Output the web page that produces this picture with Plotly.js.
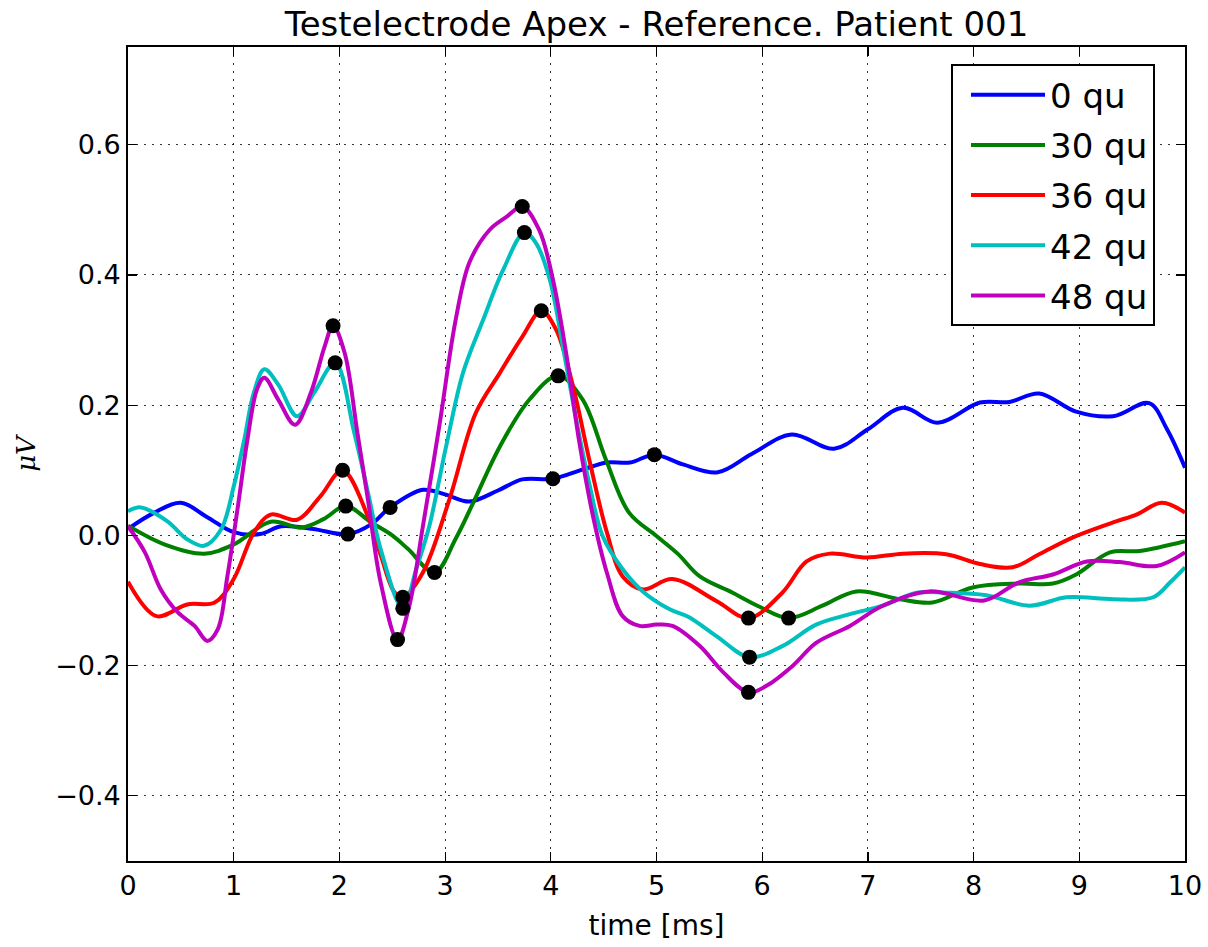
<!DOCTYPE html>
<html><head><meta charset="utf-8">
<script src="https://cdn.plot.ly/plotly-3.0.1.min.js"></script>
<style>html,body{margin:0;padding:0;background:#fff}#chart{width:1208px;height:947px}</style>
</head><body><div id="chart"></div>
<script>
const seriesNames = ['0 qu', '30 qu', '36 qu', '42 qu', '48 qu'];
const seriesColors = ['#0000ff', '#008000', '#ff0000', '#00bfbf', '#bf00bf'];

// 0 qu
const time0 = [0, 0.25, 0.5, 0.75, 1.0, 1.25, 1.45, 1.75, 2.08, 2.3, 2.48, 2.79, 3.0, 3.23, 3.5, 3.73, 4.02, 4.3, 4.53, 4.75, 4.98, 5.25, 5.58, 5.9, 6.28, 6.68, 7.0, 7.33, 7.66, 8.06, 8.34, 8.62, 8.97, 9.32, 9.66, 9.83, 10];
const volt0 = [0.01, 0.035, 0.05, 0.028, 0.005, 0.002, 0.014, 0.01, 0.002, 0.017, 0.043, 0.07, 0.063, 0.052, 0.069, 0.086, 0.087, 0.101, 0.112, 0.112, 0.124, 0.109, 0.097, 0.125, 0.155, 0.133, 0.163, 0.196, 0.173, 0.204, 0.205, 0.218, 0.19, 0.183, 0.203, 0.163, 0.104];
// 30 qu
const time30 = [0, 0.35, 0.72, 1.0, 1.35, 1.64, 1.85, 2.06, 2.3, 2.5, 2.65, 2.9, 3.1, 3.26, 3.52, 3.8, 4.07, 4.3, 4.52, 4.74, 5.0, 5.2, 5.41, 5.72, 5.98, 6.25, 6.57, 6.89, 7.3, 7.61, 7.99, 8.43, 8.75, 8.97, 9.29, 9.57, 10];
const volt30 = [0.015, -0.014, -0.028, -0.014, 0.021, 0.012, 0.025, 0.045, 0.02, 0.0, -0.021, -0.057, -0.005, 0.048, 0.137, 0.209, 0.245, 0.209, 0.117, 0.035, -0.001, -0.028, -0.063, -0.088, -0.11, -0.127, -0.108, -0.086, -0.098, -0.103, -0.08, -0.074, -0.074, -0.06, -0.026, -0.024, -0.009];
// 36 qu
const time36 = [0, 0.27, 0.56, 0.82, 1.0, 1.19, 1.35, 1.6, 1.82, 2.03, 2.27, 2.39, 2.52, 2.6, 2.79, 3.04, 3.29, 3.52, 3.73, 3.91, 4.05, 4.21, 4.37, 4.53, 4.68, 4.87, 5.15, 5.57, 5.87, 6.19, 6.42, 6.64, 6.99, 7.33, 7.74, 8.06, 8.37, 8.62, 8.94, 9.32, 9.54, 9.78, 10];
const volt36 = [-0.071, -0.124, -0.106, -0.103, -0.067, 0.004, 0.032, 0.024, 0.06, 0.1, 0.029, -0.03, -0.087, -0.095, -0.057, 0.055, 0.188, 0.25, 0.305, 0.345, 0.316, 0.229, 0.112, 0.005, -0.063, -0.083, -0.067, -0.101, -0.127, -0.088, -0.04, -0.028, -0.034, -0.028, -0.029, -0.044, -0.049, -0.029, -0.003, 0.02, 0.032, 0.05, 0.035];
// 42 qu
const time42 = [0, 0.12, 0.37, 0.56, 0.72, 0.88, 1.0, 1.1, 1.19, 1.29, 1.42, 1.6, 1.76, 1.96, 2.14, 2.27, 2.39, 2.6, 2.73, 2.85, 3.01, 3.17, 3.36, 3.55, 3.75, 3.86, 3.99, 4.12, 4.24, 4.37, 4.49, 4.68, 4.87, 5.12, 5.3, 5.57, 5.88, 6.19, 6.51, 6.83, 7.14, 7.46, 7.74, 8.12, 8.53, 8.88, 9.32, 9.7, 9.86, 10];
const volt42 = [0.037, 0.043, 0.022, -0.006, -0.016, 0.009, 0.075, 0.147, 0.219, 0.255, 0.232, 0.183, 0.219, 0.265, 0.158, 0.066, -0.021, -0.112, -0.05, 0.014, 0.137, 0.25, 0.331, 0.408, 0.465, 0.449, 0.393, 0.285, 0.178, 0.075, -0.001, -0.052, -0.086, -0.113, -0.125, -0.155, -0.187, -0.17, -0.137, -0.121, -0.108, -0.088, -0.088, -0.092, -0.108, -0.095, -0.098, -0.095, -0.072, -0.049];
// 48 qu
const time48 = [0, 0.16, 0.31, 0.47, 0.63, 0.75, 0.85, 0.94, 1.04, 1.13, 1.22, 1.29, 1.42, 1.58, 1.73, 1.86, 1.94, 2.05, 2.17, 2.27, 2.39, 2.55, 2.66, 2.79, 2.95, 3.1, 3.23, 3.42, 3.58, 3.73, 3.89, 4.02, 4.15, 4.27, 4.4, 4.53, 4.68, 4.84, 5.0, 5.15, 5.41, 5.63, 5.87, 6.04, 6.29, 6.51, 6.83, 7.14, 7.58, 8.1, 8.43, 8.75, 9.07, 9.38, 9.73, 10];
const volt48 = [0.014, -0.026, -0.083, -0.118, -0.139, -0.162, -0.144, -0.063, 0.045, 0.147, 0.224, 0.242, 0.209, 0.17, 0.219, 0.29, 0.322, 0.28, 0.158, 0.055, -0.072, -0.16, -0.109, 0.014, 0.173, 0.331, 0.419, 0.469, 0.489, 0.505, 0.469, 0.393, 0.275, 0.143, 0.029, -0.057, -0.124, -0.139, -0.137, -0.139, -0.17, -0.21, -0.241, -0.231, -0.2, -0.165, -0.139, -0.108, -0.086, -0.1, -0.072, -0.06, -0.04, -0.041, -0.047, -0.026];

// marked extrema (black dots)
const peakTime0 = [2.08, 2.48, 4.02, 4.98];
const peakVolt0 = [0.002, 0.043, 0.087, 0.124];
const peakTime30 = [2.06, 2.9, 4.07, 6.25];
const peakVolt30 = [0.045, -0.057, 0.245, -0.127];
const peakTime36 = [2.03, 2.6, 3.91, 5.87];
const peakVolt36 = [0.1, -0.095, 0.345, -0.127];
const peakTime42 = [1.96, 2.6, 3.75, 5.88];
const peakVolt42 = [0.265, -0.112, 0.465, -0.187];
const peakTime48 = [1.94, 2.55, 3.73, 5.87];
const peakVolt48 = [0.322, -0.16, 0.505, -0.241];

const lineTimes = [time0, time30, time36, time42, time48];
const lineVolts = [volt0, volt30, volt36, volt42, volt48];
const peakTimes = [peakTime0, peakTime30, peakTime36, peakTime42, peakTime48];
const peakVolts = [peakVolt0, peakVolt30, peakVolt36, peakVolt42, peakVolt48];

const traces = [];
seriesNames.forEach((name, i) => {
  traces.push({
    x: lineTimes[i], y: lineVolts[i], type: 'scatter', mode: 'lines', name: name,
    legendgroup: 'g' + i,
    line: {color: seriesColors[i], width: 4, shape: 'spline', smoothing: 1},
    hoverinfo: 'skip'
  });
});
seriesNames.forEach((name, i) => {
  traces.push({
    x: peakTimes[i], y: peakVolts[i], type: 'scatter', mode: 'markers', showlegend: false,
    legendgroup: 'g' + i,
    marker: {color: '#000', size: 15},
    hoverinfo: 'skip'
  });
});

const axisCommon = {
  ticks: 'inside', ticklen: 9, tickwidth: 1.2, tickcolor: '#000',
  showline: true, linecolor: '#000', linewidth: 1.8, mirror: 'ticks',
  showgrid: true, gridcolor: '#000', gridwidth: 0.8, griddash: '2px,6px',
  zeroline: false, tickfont: {size: 27, color: '#000'}
};

const layout = {
  width: 1208, height: 947,
  margin: {l: 128, r: 23, t: 47, b: 86, pad: 0},
  paper_bgcolor: '#fff', plot_bgcolor: '#fff',
  font: {family: 'DejaVu Sans', color: '#000', size: 27},
  title: {text: 'Testelectrode Apex - Reference. Patient 001', font: {size: 34, color: '#000'},
          x: 0.5, xref: 'paper', xanchor: 'center', y: 1 - 24 / 947, yref: 'container', yanchor: 'middle'},
  xaxis: Object.assign({}, axisCommon, {
    range: [0, 10], tickmode: 'linear', tick0: 0, dtick: 1,
    title: {text: 'time [ms]', font: {size: 28, color: '#000'}, standoff: 15}
  }),
  yaxis: Object.assign({}, axisCommon, {
    range: [-0.5, 0.75], tickmode: 'linear', tick0: 0, dtick: 0.2, tickformat: '.1f',
    title: {text: '<i>μV</i>', font: {family: 'DejaVu Serif', size: 26, color: '#000'}, standoff: 12}
  }),
  legend: {x: (951 - 128) / 1057, y: 0.979, xanchor: 'left', yanchor: 'top', bgcolor: '#fff',
           bordercolor: '#000', borderwidth: 2, font: {size: 34, color: '#000'},
           itemwidth: 74, indentation: 13, tracegroupgap: 3, traceorder: 'grouped'},
  showlegend: true
};

Plotly.newPlot('chart', traces, layout, {displayModeBar: false, staticPlot: true});
</script>
</body></html>
